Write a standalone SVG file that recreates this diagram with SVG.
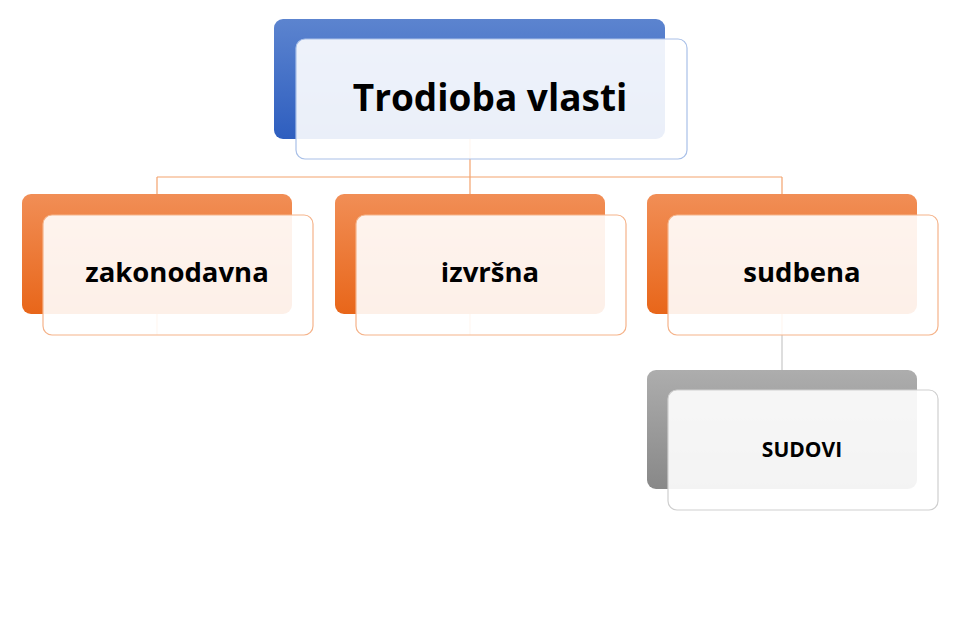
<svg xmlns="http://www.w3.org/2000/svg" width="960" height="640" viewBox="0 0 960 640">
<defs>
<linearGradient id="gBlue" x1="0" y1="0" x2="0" y2="1"><stop offset="0" stop-color="#5c84cf"/><stop offset="1" stop-color="#2e5ebf"/></linearGradient>
<linearGradient id="gOrange" x1="0" y1="0" x2="0" y2="1"><stop offset="0" stop-color="#f18e56"/><stop offset="1" stop-color="#e8661a"/></linearGradient>
<linearGradient id="gGray" x1="0" y1="0" x2="0" y2="1"><stop offset="0" stop-color="#adadad"/><stop offset="1" stop-color="#888888"/></linearGradient>
</defs>
<style>
.front{fill:#ffffff;fill-opacity:0.9;stroke-width:1.2}
.fb{stroke:#a9c0e8}
.fo{stroke:#f5b38a}
.fg{stroke:#cfcfcf}
.t{font-family:"Open Sans","DejaVu Sans",sans-serif;font-weight:bold;fill:#000;text-anchor:middle}
.conn{fill:none;stroke-width:1.2}
</style>
<rect width="960" height="640" fill="#ffffff"/>
<g id="connectors">
<path class="conn" stroke="#f4a36e" d="M470 139V177M157 177H782M157 177V335M470 177V335M782 177V335"/>
<path class="conn" stroke="#c8c8c8" d="M782 335V370"/>
</g>
<g id="node-root">
<rect x="274" y="19" width="391" height="120" rx="9" fill="url(#gBlue)"/>
<rect class="front fb" x="296" y="39" width="391" height="120" rx="9"/>
<text class="t" x="490" y="111" font-size="37">Trodioba vlasti</text>
</g>
<g id="node-zakonodavna">
<rect x="22" y="194" width="270" height="120" rx="9" fill="url(#gOrange)"/>
<rect class="front fo" x="43" y="215" width="270" height="120" rx="9"/>
<text class="t" x="177" y="282" font-size="27.5">zakonodavna</text>
</g>
<g id="node-izvrsna">
<rect x="335" y="194" width="270" height="120" rx="9" fill="url(#gOrange)"/>
<rect class="front fo" x="356" y="215" width="270" height="120" rx="9"/>
<text class="t" x="490" y="282" font-size="27.5">izvršna</text>
</g>
<g id="node-sudbena">
<rect x="647" y="194" width="270" height="120" rx="9" fill="url(#gOrange)"/>
<rect class="front fo" x="668" y="215" width="270" height="120" rx="9"/>
<text class="t" x="802" y="282" font-size="27.5">sudbena</text>
</g>
<g id="node-sudovi">
<rect x="647" y="370" width="270" height="119" rx="9" fill="url(#gGray)"/>
<rect class="front fg" x="668" y="390" width="270" height="120" rx="9"/>
<text class="t" x="802" y="457" font-size="21">SUDOVI</text>
</g>
</svg>
